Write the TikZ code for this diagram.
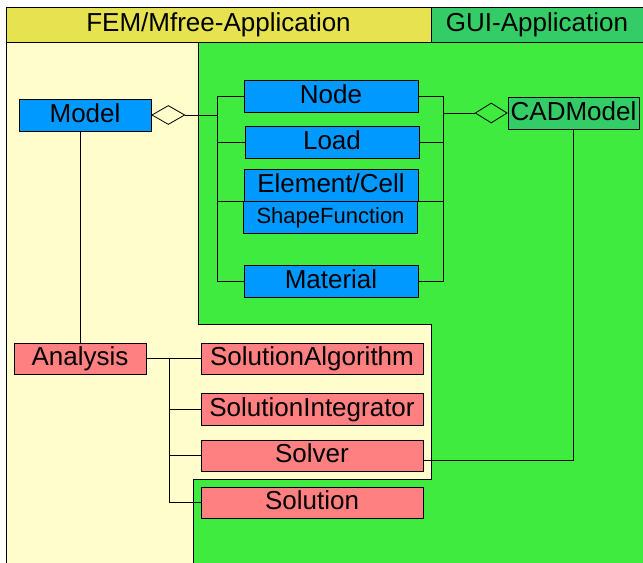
\documentclass[tikz,border=0pt]{standalone}
\usepackage{fontspec}
\setmainfont{Liberation Sans}
\usetikzlibrary{shapes.geometric,calc}
\definecolor{hdryellow}{RGB}{230,226,80}
\definecolor{lightyellow}{RGB}{255,253,204}
\definecolor{brightgreen}{RGB}{62,235,62}
\definecolor{guigreen}{RGB}{51,204,102}
\definecolor{boxblue}{RGB}{0,153,255}
\definecolor{boxred}{RGB}{255,128,128}
\begin{document}
\begin{tikzpicture}[x=1bp,y=-1bp,line width=0.8bp,
  lbl/.style={font=\fontsize{26bp}{30bp}\selectfont,text height=18.7bp,text depth=3.9bp,inner sep=0pt},
  hdr/.style={lbl,draw,minimum height=35bp},
  bluebox/.style={lbl,draw,fill=boxblue,minimum width=174bp,minimum height=32bp},
  redbox/.style={lbl,draw,fill=boxred,minimum width=222bp,minimum height=31bp},
  agg/.style={diamond,draw,inner sep=0pt,minimum width=33bp,minimum height=19bp}]
\useasboundingbox (0,0) rectangle (643,563);
% backgrounds
\fill[white] (0,0) rectangle (643,563);
\fill[lightyellow] (6,42) rectangle (643,563);
\fill[brightgreen] (198,42) -- (643,42) -- (643,563) -- (193,563) -- (193,479) -- (431,479) -- (431,324) -- (198,324) -- cycle;
\draw (198,42) -- (198,324) -- (431,324) -- (431,479) -- (193,479) -- (193,563);
\draw (6,42) -- (6,563);
% headers
\node[hdr,fill=hdryellow,minimum width=425bp] (fem) at (218.5,24.5) {FEM/Mfree-Application};
\node[hdr,fill=guigreen,minimum width=212bp] (gui) at (537,24.5) {GUI-Application};
% classes
\node[bluebox,minimum width=132bp] (Model) at (85,115) {Model};
\node[bluebox] (Node) at (331,96.5) {Node};
\node[bluebox] (Load) at (332,142.5) {Load};
\node[bluebox] (Element) at (331,185) {Element/Cell};
\node[bluebox,font=\fontsize{22bp}{26bp}\selectfont,text height=15.8bp,text depth=3.3bp] (Shape) at (330.5,217) {ShapeFunction};
\node[bluebox] (Material) at (331,281) {Material};
\node[bluebox,fill=guigreen,minimum width=131bp] (CAD) at (573.5,113) {CADModel};
\node[redbox,minimum width=132bp] (Analysis) at (80,358.5) {Analysis};
\node[redbox] (SolAlg) at (312,358.5) {SolutionAlgorithm};
\node[redbox,minimum height=32bp] (SolInt) at (312,409) {SolutionIntegrator};
\node[redbox] (Solver) at (312,455.5) {Solver};
\node[redbox] (Solution) at (312,502.5) {Solution};
% aggregation diamonds
\node[agg,anchor=west] (d1) at (Model.east) {};
\node[agg,anchor=east,minimum width=32bp,minimum height=20bp] (d2) at (CAD.west) {};
% buses
\coordinate (lb) at (217,115);
\coordinate (rb) at (443,113);
\coordinate (ab) at (169,358.5);
\draw (d1.east) -- (lb);
\draw (Node.west) -- (Node.west -| lb) -- (Material.west -| lb) -- (Material.west);
\draw (Load.west) -- (Load.west -| lb);
\draw (Element.south west) -- (Element.south west -| lb);
\draw (Node.east) -- (Node.east -| rb) -- (Material.east -| rb) -- (Material.east);
\draw (Load.east) -- (Load.east -| rb);
\draw (Element.south east) -- (Element.south east -| rb);
\draw (rb) -- (d2.west);
\draw (CAD.south) |- ([yshift=-4.5bp]Solver.east);
\draw (Analysis.north) -- (Analysis.north |- Model.south);
\draw (Analysis.east) -- (SolAlg.west);
\draw (ab) |- (Solution.west);
\draw (SolInt.west) -- (SolInt.west -| ab);
\draw (Solver.west) -- (Solver.west -| ab);
\end{tikzpicture}
\end{document}
